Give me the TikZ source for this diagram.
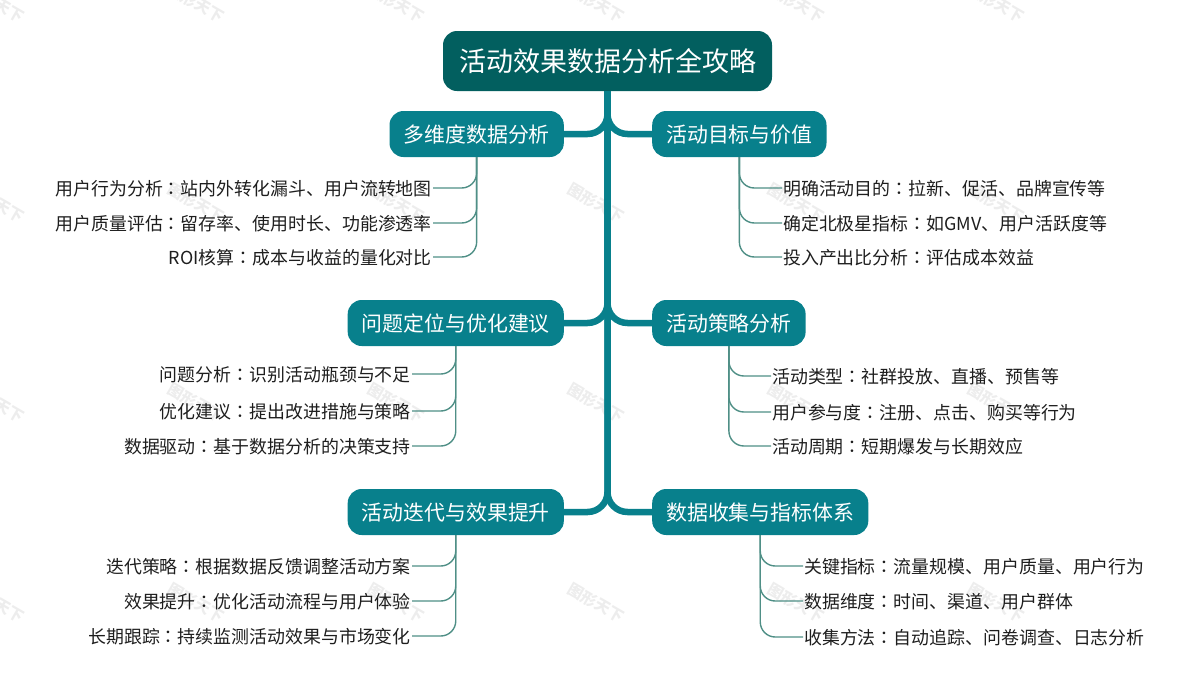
\documentclass[tikz,border=0pt]{standalone}
\usepackage{fontspec}
\setmainfont{Noto Sans CJK SC}
\newfontfamily\cjktc{Noto Sans CJK TC}
\newcommand{\colonmark}{{\cjktc ：}}
\usepackage{tikz}
\definecolor{rootfill}{HTML}{025F5F}
\definecolor{branchfill}{HTML}{08808C}
\definecolor{leafline}{HTML}{4F8F86}
\definecolor{leaftext}{HTML}{1E1E1E}
\definecolor{markgray}{HTML}{EDEDED}
\tikzset{
  rootbox/.style={fill=rootfill, text=white, rounded corners=14pt, minimum width=329pt, minimum height=60pt, inner sep=0pt, font=\fontsize{27pt}{30pt}\selectfont},
  branchbox/.style={fill=branchfill, text=white, rounded corners=14pt, minimum height=46pt, inner xsep=14pt, inner ysep=0pt, text height=20pt, text depth=3pt, font=\fontsize{20.9pt}{24pt}\selectfont},
  leafbox/.style={text=leaftext, inner xsep=1pt, inner ysep=0pt, text height=17pt, text depth=3pt, font=\fontsize{17.92pt}{21pt}\selectfont},
  leftleaf/.style={leafbox, anchor=east},
  rightleaf/.style={leafbox, anchor=west},
  trunkline/.style={branchfill, line width=6.5pt, rounded corners=20pt},
  leafedge/.style={leafline, line width=1.4pt, rounded corners=15pt},
  markbox/.style={text=markgray, rotate=-30, font=\fontsize{15.5pt}{18pt}\selectfont\bfseries}
}

\begin{document}
\begin{tikzpicture}[x=1pt, y=1pt]
  \useasboundingbox (0,0) rectangle (1200,-678);

  % watermark
  \foreach \mx in {-4,196,396,596,796,996}
    \foreach \my in {-3,-203,-403,-603}
      \node[markbox] (mark\mx\my) at (\mx,\my) {图形天下};

  % root and branches
  \node[rootbox] (root) at (607.5,-61) {活动效果数据分析全攻略};

  \node[branchbox] (multiDim) [anchor=east] at (564,-134) {多维度数据分析};
  \node[branchbox] (issueFix) [anchor=east] at (564,-323) {问题定位与优化建议};
  \node[branchbox] (iterate) [anchor=east] at (564,-512) {活动迭代与效果提升};
  \node[branchbox] (goalValue) [anchor=west] at (652,-134) {活动目标与价值};
  \node[branchbox] (strategy) [anchor=west] at (652,-323) {活动策略分析};
  \node[branchbox] (dataSys) [anchor=west] at (652,-512) {数据收集与指标体系};

  % leaves on the left
  \node[leftleaf] (behavior) at (433,-188) {用户行为分析\colonmark 站内外转化漏斗、用户流转地图};
  \node[leftleaf] (quality) at (433,-223) {用户质量评估\colonmark 留存率、使用时长、功能渗透率};
  \node[leftleaf] (roi) at (433,-257) {ROI核算\colonmark 成本与收益的量化对比};

  \node[leftleaf] (problem) at (412,-374) {问题分析\colonmark 识别活动瓶颈与不足};
  \node[leftleaf] (advice) at (412,-411) {优化建议\colonmark 提出改进措施与策略};
  \node[leftleaf] (driven) at (412,-446) {数据驱动\colonmark 基于数据分析的决策支持};

  \node[leftleaf] (iterPlan) at (412,-566) {迭代策略\colonmark 根据数据反馈调整活动方案};
  \node[leftleaf] (lift) at (412,-601) {效果提升\colonmark 优化活动流程与用户体验};
  \node[leftleaf] (track) at (412,-636) {长期跟踪\colonmark 持续监测活动效果与市场变化};

  % leaves on the right
  \node[rightleaf] (purpose) at (782,-188) {明确活动目的\colonmark 拉新、促活、品牌宣传等};
  \node[rightleaf] (northStar) at (782,-223) {确定北极星指标\colonmark 如GMV、用户活跃度等};
  \node[rightleaf] (inout) at (782,-257) {投入产出比分析\colonmark 评估成本效益};

  \node[rightleaf] (kind) at (771,-376) {活动类型\colonmark 社群投放、直播、预售等};
  \node[rightleaf] (join) at (771,-412) {用户参与度\colonmark 注册、点击、购买等行为};
  \node[rightleaf] (cycle) at (771,-446) {活动周期\colonmark 短期爆发与长期效应};

  \node[rightleaf] (keyIdx) at (803,-566) {关键指标\colonmark 流量规模、用户质量、用户行为};
  \node[rightleaf] (dimen) at (803,-601) {数据维度\colonmark 时间、渠道、用户群体};
  \node[rightleaf] (collect) at (803,-637) {收集方法\colonmark 自动追踪、问卷调查、日志分析};

  % trunk
  \draw[trunkline] (root.south) |- (multiDim.east);
  \draw[trunkline] (root.south) |- (goalValue.west);
  \draw[trunkline] (root.south) |- (issueFix.east);
  \draw[trunkline] (root.south) |- (strategy.west);
  \draw[trunkline] (root.south) |- (iterate.east);
  \draw[trunkline] (root.south) |- (dataSys.west);

  % edges to leaves
  \draw[leafedge] (multiDim.south) |- (behavior.east);
  \draw[leafedge] (multiDim.south) |- (quality.east);
  \draw[leafedge] (multiDim.south) |- (roi.east);
  \draw[leafedge] (issueFix.south) |- (problem.east);
  \draw[leafedge] (issueFix.south) |- (advice.east);
  \draw[leafedge] (issueFix.south) |- (driven.east);
  \draw[leafedge] (iterate.south) |- (iterPlan.east);
  \draw[leafedge] (iterate.south) |- (lift.east);
  \draw[leafedge] (iterate.south) |- (track.east);
  \draw[leafedge] (goalValue.south) |- (purpose.west);
  \draw[leafedge] (goalValue.south) |- (northStar.west);
  \draw[leafedge] (goalValue.south) |- (inout.west);
  \draw[leafedge] (strategy.south) |- (kind.west);
  \draw[leafedge] (strategy.south) |- (join.west);
  \draw[leafedge] (strategy.south) |- (cycle.west);
  \draw[leafedge] (dataSys.south) |- (keyIdx.west);
  \draw[leafedge] (dataSys.south) |- (dimen.west);
  \draw[leafedge] (dataSys.south) |- (collect.west);
\end{tikzpicture}
\end{document}
